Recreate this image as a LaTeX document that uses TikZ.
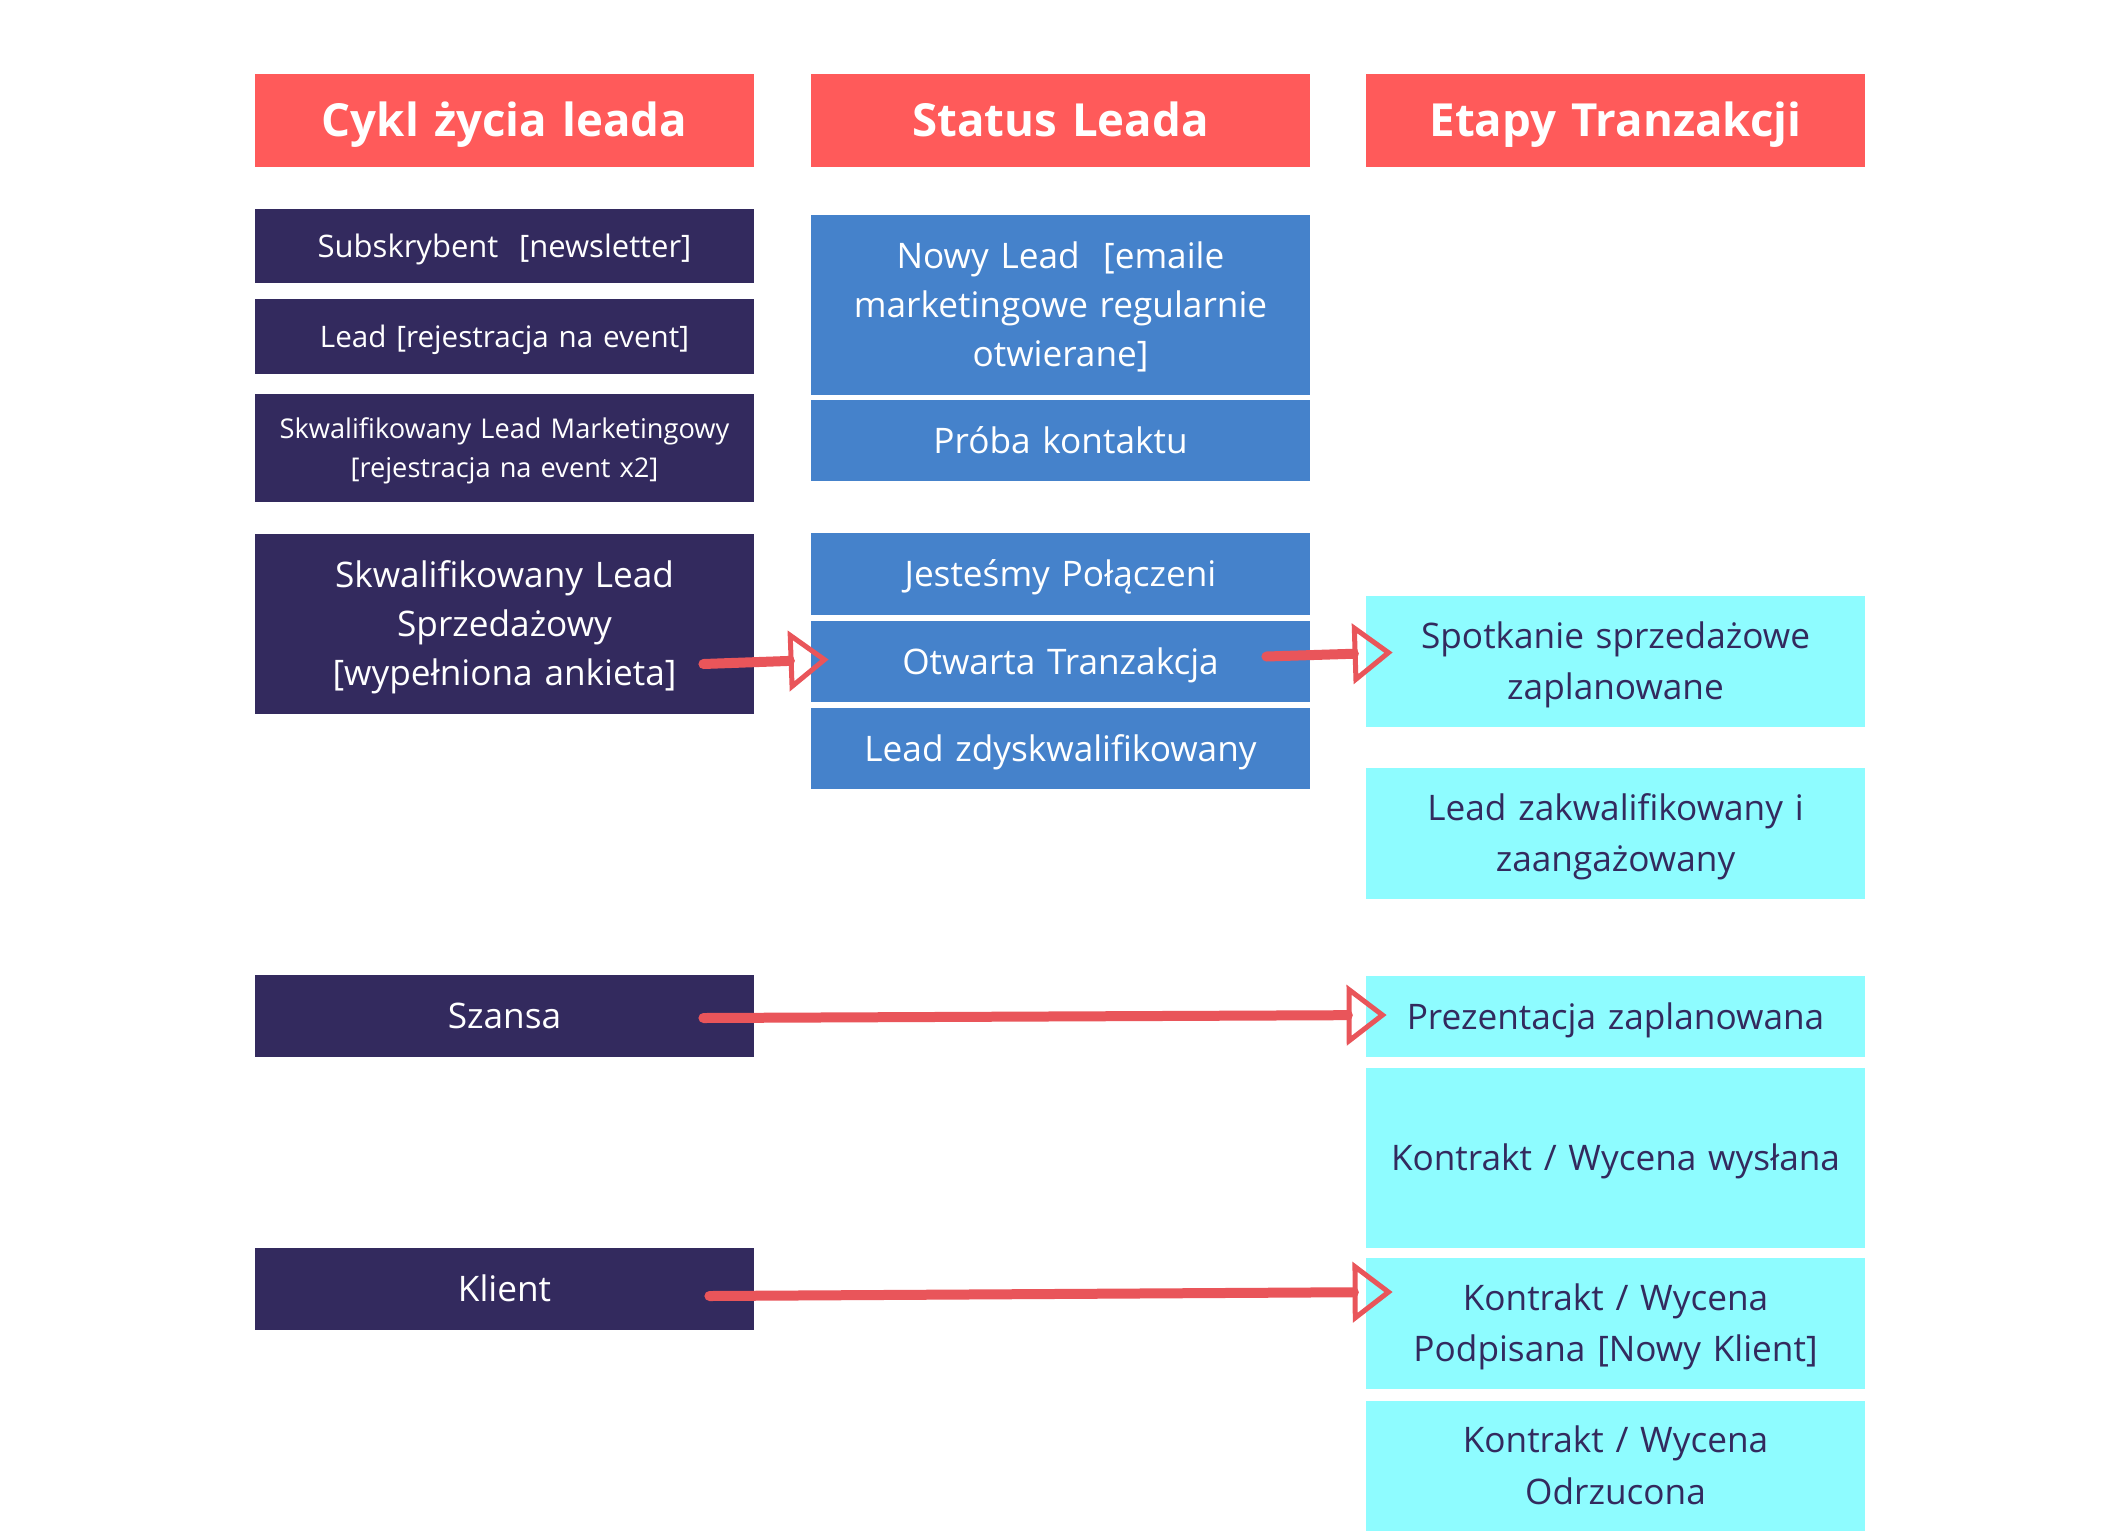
\documentclass[tikz,border=0pt]{standalone}
\usepackage{fontspec}
\setmainfont{Open Sans}
\usetikzlibrary{calc, arrows.meta}
\definecolor{headRed}{HTML}{FF5A5A}
\definecolor{navy}{HTML}{332A5E}
\definecolor{steel}{HTML}{4582CB}
\definecolor{aqua}{HTML}{8EFCFF}
\definecolor{brush}{HTML}{E9555A}
\newcommand{\capStrut}{\rule[-0.35em]{0pt}{1.414em}}

\begin{document}
\begin{tikzpicture}[
	x=0.5pt, y=-0.5pt,
	box/.style={rectangle, inner sep=0pt, minimum width=249.5pt, text width=245pt, align=center,
		execute at begin node=\capStrut, execute at end node=\capStrut},
	headBox/.style={box, fill=headRed, text=white, minimum height=46.5pt, font=\fontsize{22.8}{30}\selectfont\bfseries},
	lifeBox/.style={box, fill=navy, text=white, font=\fontsize{17.6}{24.6}\selectfont},
	statBox/.style={box, fill=steel, text=white, font=\fontsize{17.6}{24.6}\selectfont},
	dealBox/.style={box, fill=aqua, text=navy, font=\fontsize{17.6}{24.6}\selectfont},
	subTxt/.style={font=\fontsize{15.5}{21.8}\selectfont},
	leadTxt/.style={font=\fontsize{14.8}{21}\selectfont},
	mqlTxt/.style={font=\fontsize{13.6}{19.3}\selectfont},
	arrow/.style={brush, line width=5pt, line cap=round, -{Triangle[open, length=20pt, width=30pt, line width=2.5pt]}}
	]
	
	\useasboundingbox[fill=white] (0,0) rectangle (2112,1536);
	
	% Headers
	\node [headBox] (h1) at (504.5, 120.5) {Cykl życia leada};
	\node [headBox] (h2) at (1060.5, 120.5) {Status Leada};
	\node [headBox] (h3) at (1615.5, 120.5) {Etapy Tranzakcji};
	
	% Cykl zycia
	\node [lifeBox, subTxt, minimum height=37pt] (sub) at (504.5, 246) {Subskrybent~~[newsletter]};
	\node [lifeBox, leadTxt, minimum height=37.5pt] (lead) at (504.5, 336.5) {Lead [rejestracja na event]};
	\node [lifeBox, mqlTxt, minimum height=54pt] (mql) at (504.5, 448) {Skwalifikowany Lead Marketingowy\\{[rejestracja na event x2]}};
	\node [lifeBox, minimum height=90pt] (sql) at (504.5, 624) {Skwalifikowany Lead\\Sprzedażowy\\{[wypełniona ankieta]}};
	\node [lifeBox, minimum height=41pt] (szansa) at (504.5, 1016) {Szansa};
	\node [lifeBox, minimum height=41pt] (klient) at (504.5, 1289) {Klient};
	
	% Status
	\node [statBox, minimum height=90pt] (nowy) at (1060.5, 305) {Nowy Lead~~[emaile\\marketingowe regularnie\\otwierane]};
	\node [statBox, minimum height=40.5pt] (proba) at (1060.5, 440.5) {Próba kontaktu};
	\node [statBox, minimum height=41pt] (polacz) at (1060.5, 574) {Jesteśmy Połączeni};
	\node [statBox, minimum height=40.5pt] (otw) at (1060.5, 661.5) {Otwarta Tranzakcja};
	\node [statBox, minimum height=40.5pt] (zdysk) at (1060.5, 748.5) {Lead zdyskwalifikowany};
	
	% Etapy
	\node [dealBox, minimum height=65.5pt] (spot) at (1615.5, 661.5) {Spotkanie sprzedażowe\\zaplanowane};
	\node [dealBox, minimum height=65.5pt] (zakw) at (1615.5, 833.5) {Lead zakwalifikowany i\\zaangażowany};
	\node [dealBox, minimum height=40.5pt] (prez) at (1615.5, 1016.5) {Prezentacja zaplanowana};
	\node [dealBox, minimum height=90pt] (wysl) at (1615.5, 1158) {Kontrakt / Wycena wysłana};
	\node [dealBox, minimum height=65.5pt] (podp) at (1615.5, 1323.5) {Kontrakt / Wycena\\Podpisana [Nowy Klient]};
	\node [dealBox, minimum height=65pt] (odrz) at (1615.5, 1466) {Kontrakt / Wycena\\Odrzucona};
	
	% Arrows
	\draw [arrow] ($(sql.east) + (-51, 40)$) -- ($(otw.west) + (18, -2)$);
	\draw [arrow] ($(otw.east) + (-44, -5)$) -- ($(spot.west) + (27, -9)$);
	\draw [arrow] ($(szansa.east) + (-51, 2)$) -- ($(prez.west) + (21, -1.5)$);
	\draw [arrow] ($(klient.east) + (-45, 7)$) -- ($(podp.west) + (27, -31.5)$);
\end{tikzpicture}
\end{document}
